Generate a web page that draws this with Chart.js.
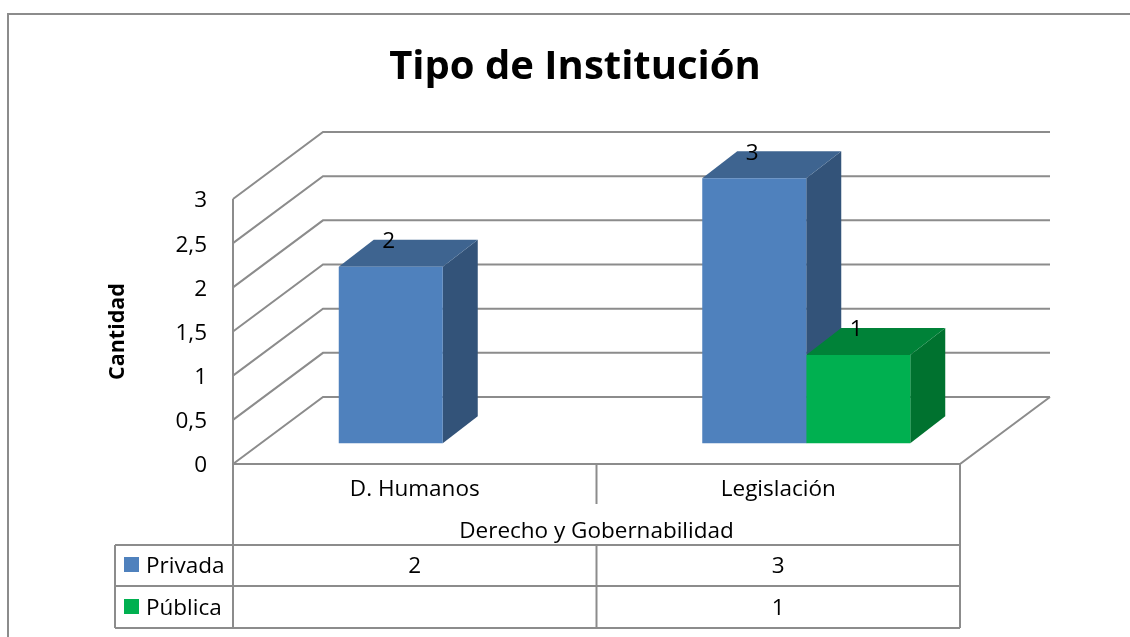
<!DOCTYPE html>
<html>
<head>
<meta charset="utf-8">
<style>html,body{margin:0;padding:0;background:#fff}canvas{display:block}</style>
<script src="https://cdn.jsdelivr.net/npm/chart.js@4"></script>
</head>
<body>
<canvas id="c" width="1130" height="637"></canvas>
<script>
const categories = ["D. Humanos", "Legislación"];
const groupLabel = "Derecho y Gobernabilidad";
const privada = [2, 3];
const publica = [null, 1];
const titleText = "Tipo de Institución";
const yTitle = "Cantidad";

const FONT = '"Open Sans", sans-serif';
const TEXT_SIZE = 22.5;
const LINE = "#8c8c8c";
const BACK = { x: 90, y: -67 };   // wall depth
const BAR_DEPTH = { x: 35, y: -27 };
const SHIFT = 28;                 // front plane vs. bar plane
const FACES = [
  { front: "#4F81BD", top: "#3E6490", side: "#335379" },
  { front: "#00B050", top: "#008238", side: "#00722F" }
];

function seg(ctx, pts, color, w) {
  ctx.beginPath();
  ctx.moveTo(pts[0][0], pts[0][1]);
  for (let i = 1; i < pts.length; i++) ctx.lineTo(pts[i][0], pts[i][1]);
  ctx.strokeStyle = color || LINE;
  ctx.lineWidth = w || 2;
  ctx.stroke();
}
function poly(ctx, pts, color) {
  ctx.beginPath();
  ctx.moveTo(pts[0][0], pts[0][1]);
  for (let i = 1; i < pts.length; i++) ctx.lineTo(pts[i][0], pts[i][1]);
  ctx.closePath();
  ctx.fillStyle = color;
  ctx.fill();
}

const scene3d = {
  id: "scene3d",
  beforeDatasetsDraw(chart) {
    const { ctx, chartArea: a, scales } = chart;
    const y = scales.y;
    const fl = a.left - SHIFT, fr = a.right - SHIFT;
    ctx.save();
    // frame of the picture
    seg(ctx, [[8, 637], [8, 14], [1130, 14]], "#8c8c8c", 2);
    // walls: one line per tick
    y.ticks.forEach(t => {
      const py = y.getPixelForValue(t.value);
      seg(ctx, [[fl, py], [fl + BACK.x, py + BACK.y], [fr + BACK.x, py + BACK.y]]);
    });
    // side wall edge and floor
    const y0 = y.getPixelForValue(0), y3 = y.getPixelForValue(3);
    seg(ctx, [[fl, y3], [fl, y0]]);
    seg(ctx, [[fl, y0], [fr, y0], [fr + BACK.x, y0 + BACK.y]]);

    // bar side and top faces
    chart.data.datasets.forEach((ds, di) => {
      const meta = chart.getDatasetMeta(di);
      meta.data.forEach((bar, i) => {
        if (ds.data[i] == null) return;
        const l = bar.x - bar.width / 2, r = bar.x + bar.width / 2;
        const t = bar.y, b = bar.base;
        const dx = BAR_DEPTH.x, dy = BAR_DEPTH.y;
        poly(ctx, [[r, t], [r + dx, t + dy], [r + dx, b + dy], [r, b]], FACES[di].side);
        poly(ctx, [[l, t], [l + dx, t + dy], [r + dx, t + dy], [r, t]], FACES[di].top);
      });
    });
    ctx.restore();
  },
  afterDatasetsDraw(chart) {
    const { ctx } = chart;
    ctx.save();
    ctx.font = TEXT_SIZE + "px " + FONT;
    ctx.fillStyle = "#000";
    ctx.textAlign = "center";
    ctx.textBaseline = "middle";
    chart.data.datasets.forEach((ds, di) => {
      chart.getDatasetMeta(di).data.forEach((bar, i) => {
        if (ds.data[i] == null) return;
        ctx.fillText(String(ds.data[i]), bar.x - 2, bar.y - 25);
      });
    });
    ctx.restore();
  },
  afterDraw(chart) {
    const { ctx, chartArea: a } = chart;
    const fl = a.left - SHIFT, fr = a.right - SHIFT, fm = (fl + fr) / 2;
    const top = a.bottom, rowA = 545, rowB = 586, rowC = 628, tl = 115;
    ctx.save();
    seg(ctx, [[fl, top], [fl, rowC]]);
    seg(ctx, [[fr, top], [fr, rowC]]);
    seg(ctx, [[fm, top], [fm, 504]]);
    seg(ctx, [[fm, rowA], [fm, rowC]]);
    [rowA, rowB, rowC].forEach(v => seg(ctx, [[tl, v], [fr, v]]));
    seg(ctx, [[tl, rowA], [tl, rowC]]);

    ctx.font = TEXT_SIZE + "px " + FONT;
    ctx.fillStyle = "#000";
    ctx.textBaseline = "middle";
    ctx.textAlign = "center";
    ctx.fillText(groupLabel, fm, 532);
    chart.data.datasets.forEach((ds, di) => {
      const cy = di === 0 ? 567 : 609;
      const sy = di === 0 ? 565 : 607;
      ctx.fillStyle = FACES[di].front;
      ctx.fillRect(124, sy - 8, 15, 15);
      ctx.fillStyle = "#000";
      ctx.textAlign = "left";
      ctx.fillText(ds.label, 146, cy);
      ctx.textAlign = "center";
      ds.data.forEach((v, i) => {
        if (v == null) return;
        ctx.fillText(String(v), fl + (fr - fl) * (i + 0.5) / categories.length, cy);
      });
    });
    ctx.restore();
  }
};

new Chart(document.getElementById("c"), {
  type: "bar",
  data: {
    labels: categories,
    datasets: [
      { label: "Privada", data: privada, backgroundColor: FACES[0].front, yAxisID: "yBars", clip: false,
        categoryPercentage: 0.5722, barPercentage: 1 },
      { label: "Pública", data: publica, backgroundColor: FACES[1].front, yAxisID: "yBars", clip: false,
        categoryPercentage: 0.5722, barPercentage: 1 }
    ]
  },
  plugins: [scene3d],
  options: {
    responsive: false,
    animation: false,
    layout: { padding: { left: 20, right: 0, top: 0, bottom: 0 } },
    plugins: {
      legend: { display: false },
      tooltip: { enabled: false },
      title: {
        display: true,
        text: titleText,
        color: "#000",
        font: { family: FONT, size: 40, weight: "bold", lineHeight: 1.2 },
        padding: { top: 44, bottom: 107 }
      }
    },
    scales: {
      x: {
        grid: { display: false, drawTicks: false },
        border: { display: false },
        ticks: {
          color: "#000", font: { family: FONT, size: TEXT_SIZE }, labelOffset: -SHIFT,
          padding: 12, maxRotation: 0, autoSkip: false
        },
        afterFit(s) { s.height = 173; }
      },
      y: {
        position: "left",
        min: 0, max: 3,
        grid: { display: false, drawTicks: false },
        border: { display: false },
        ticks: {
          stepSize: 0.5, color: "#000", font: { family: FONT, size: TEXT_SIZE }, padding: 54,
          labelOffset: 2,
          callback: v => String(v).replace(".", ",")
        },
        title: {
          display: true, text: yTitle, color: "#000",
          font: { family: FONT, size: 21.5, weight: "bold" },
          padding: { top: 85, bottom: 0 }
        },
        afterFit(s) { s.width = 241; }
      },
      yBars: {
        position: "right",
        min: -0.234, max: 2.766,
        grid: { display: false, drawTicks: false },
        border: { display: false },
        ticks: { display: false },
        afterFit(s) { s.width = 142; }
      }
    }
  }
});
</script>
</body>
</html>
